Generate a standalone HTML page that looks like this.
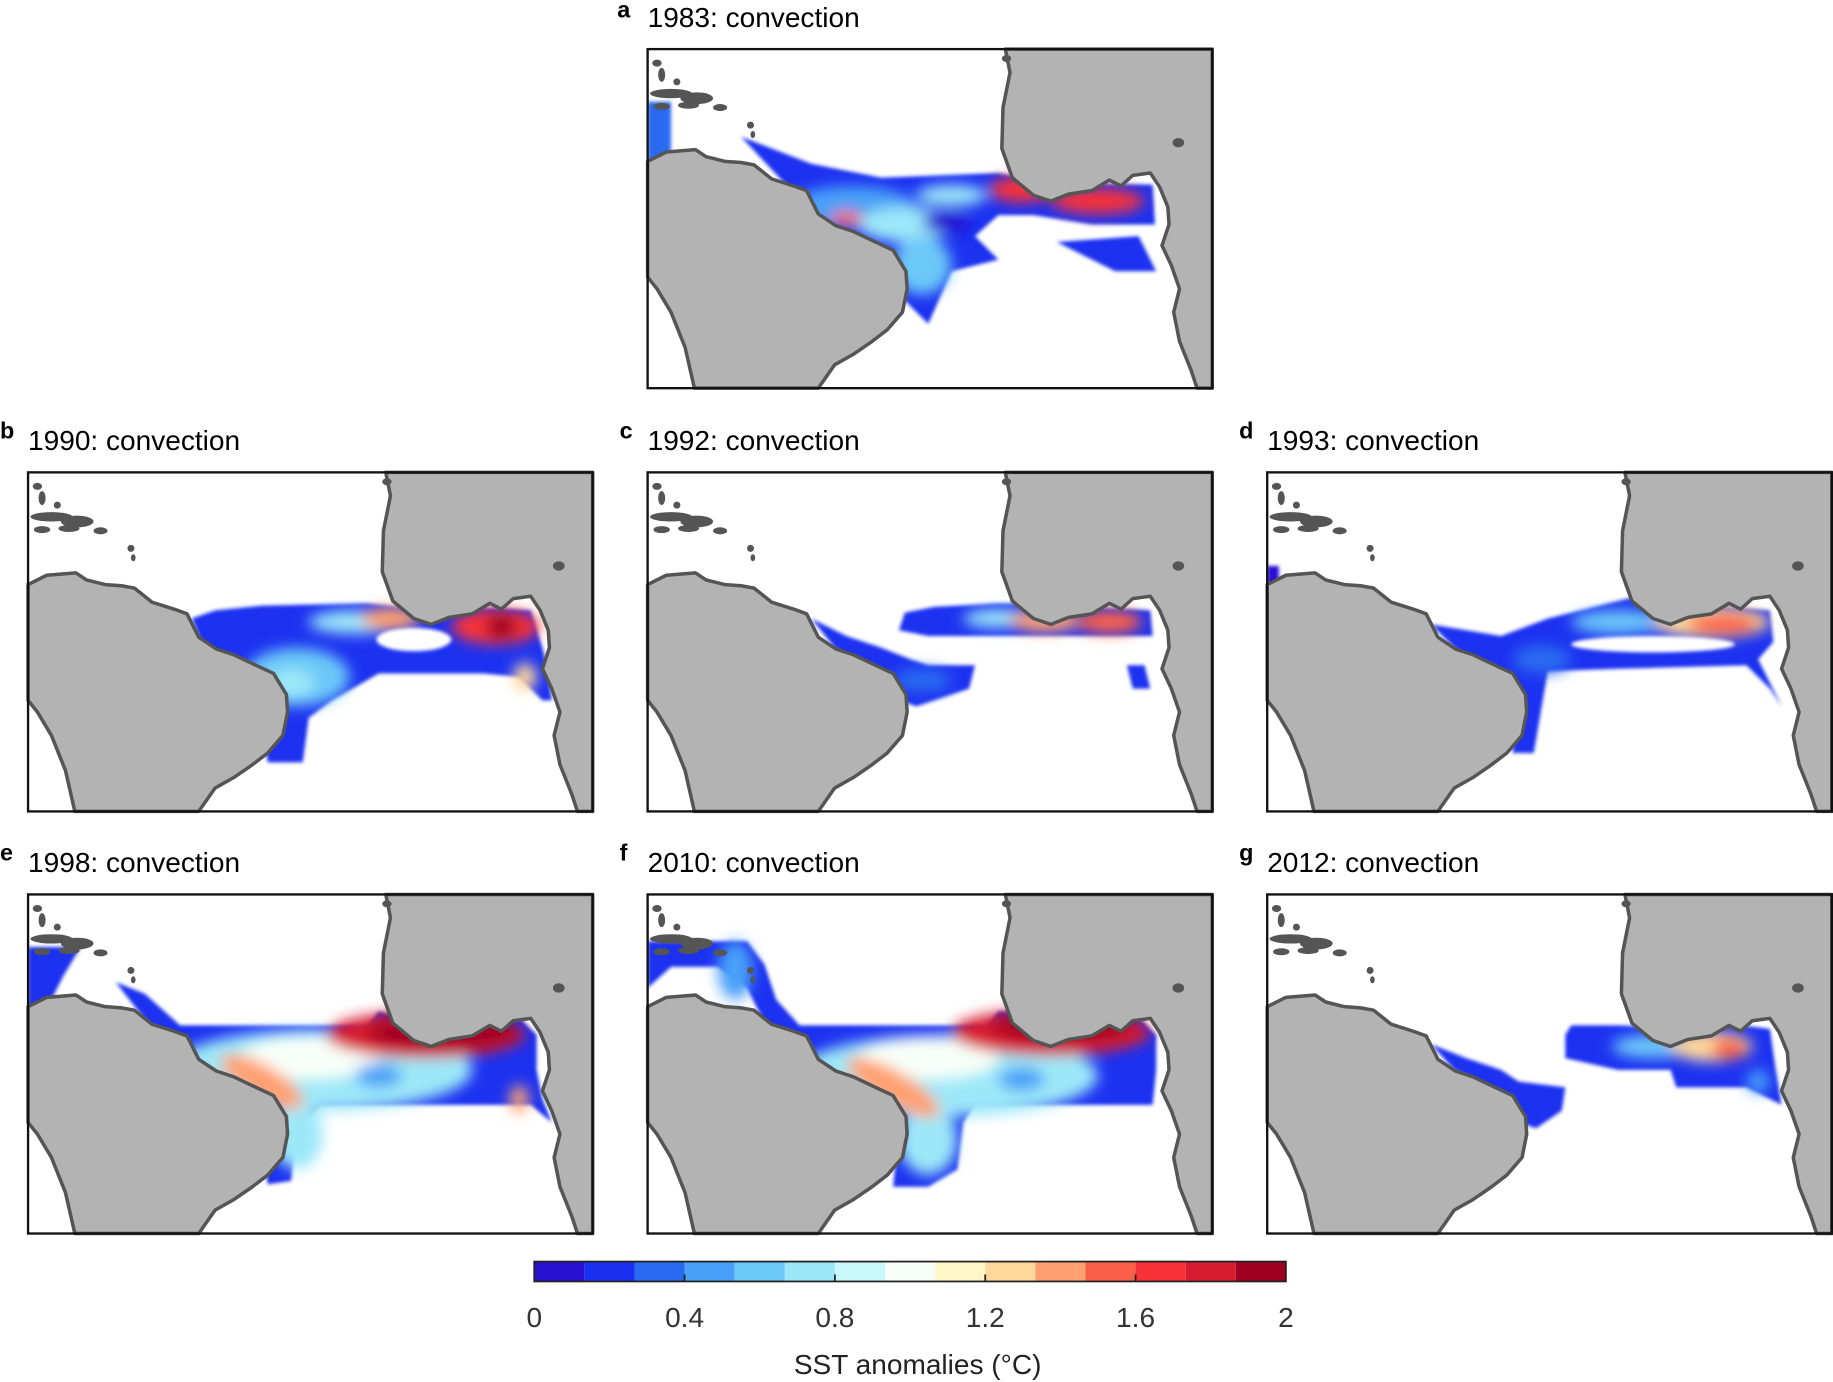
<!DOCTYPE html>
<html><head><meta charset="utf-8"><style>html,body{margin:0;padding:0;background:#fff}svg{display:block}</style></head>
<body>
<svg width="1833" height="1382" viewBox="0 0 1568 1182" preserveAspectRatio="none" xmlns="http://www.w3.org/2000/svg" font-family="Liberation Sans, sans-serif">
<defs>
<clipPath id="cp"><rect x="0" y="0" width="483" height="290"/></clipPath>
<filter id="b1" x="-20%" y="-20%" width="140%" height="140%"><feGaussianBlur stdDeviation="1.5"/></filter>
<filter id="b2" x="-50%" y="-50%" width="200%" height="200%"><feGaussianBlur stdDeviation="6"/></filter>
<g id="land">
<path d="M0,96 L16,88 L41,86 L50,92 L66,96 L80,97 L91,99 L106,111 L125,117 L136,121 L146,141 L161,151 L176,156 L195,165 L210,172 L221,190 L222,205 L218,225 L205,240 L192,250 L176,261 L160,270 L146,290 L40,290 L32,255 L20,225 L8,205 L0,195 Z" fill="#b3b3b3" stroke="#555" stroke-width="3" stroke-linejoin="round"/>
<path d="M306,0 L310,20 L304,50 L303,85 L312,110 L330,125 L345,130 L360,124 L380,121 L395,112 L405,117 L415,108 L430,106 L438,118 L445,135 L446,150 L440,168 L448,185 L455,205 L450,225 L455,250 L465,275 L470,290 L483,290 L483,0 Z" fill="#b3b3b3" stroke="#555" stroke-width="3" stroke-linejoin="round"/>
<g fill="#555">
<ellipse cx="8" cy="12" rx="4" ry="3"/><ellipse cx="12" cy="22" rx="3" ry="6"/><ellipse cx="20" cy="38" rx="18" ry="4"/><ellipse cx="25" cy="28" rx="3" ry="3"/><ellipse cx="42" cy="42" rx="14" ry="5"/><ellipse cx="35" cy="48" rx="9" ry="3"/><ellipse cx="12" cy="49" rx="7" ry="3"/><ellipse cx="62" cy="50" rx="6" ry="3"/><ellipse cx="88" cy="65" rx="3" ry="3"/><ellipse cx="90" cy="73" rx="2" ry="3"/><ellipse cx="454" cy="80" rx="5" ry="4"/><ellipse cx="307" cy="8" rx="4" ry="3"/>
</g>
</g>
<rect id="frame" x="0" y="0" width="483" height="290" fill="none" stroke="#111" stroke-width="2"/>
</defs>

<text x="528" y="15" font-size="20" font-weight="bold">a</text>
<text x="554" y="23" font-size="24">1983: convection</text>
<g transform="translate(554,42)"><g clip-path="url(#cp)">
<g filter="url(#b1)">
<polygon fill="#1a30f0" points="80,75 140,98 200,110 300,106 340,114 432,116 434,150 380,150 330,142 300,142 280,160 300,180 260,190 240,235 210,205 180,170 150,150"/>
<polygon fill="#1a30f0" points="350,165 420,160 435,190 400,190"/>
<polygon fill="#2a6af0" points="0,45 20,45 20,115 0,115"/>
</g>
<g filter="url(#b2)">
<ellipse cx="175" cy="135" rx="55" ry="18" fill="#4aa0f8"/>
<ellipse cx="220" cy="150" rx="40" ry="15" fill="#9ce8f8"/>
<ellipse cx="235" cy="185" rx="25" ry="25" fill="#6cc8f8"/>
<ellipse cx="260" cy="125" rx="30" ry="9" fill="#9ce8f8"/>
<ellipse cx="255" cy="148" rx="20" ry="9" fill="#2810d0"/>
<ellipse cx="320" cy="120" rx="28" ry="11" fill="#f83038"/>
<ellipse cx="385" cy="130" rx="40" ry="11" fill="#f83038"/>
<ellipse cx="170" cy="145" rx="14" ry="6" fill="#fa6048"/>
</g></g>
<use href="#land"/><use href="#frame"/></g>

<text x="0" y="375" font-size="20" font-weight="bold">b</text>
<text x="24" y="385" font-size="24">1990: convection</text>
<text x="530" y="375" font-size="20" font-weight="bold">c</text>
<text x="554" y="385" font-size="24">1992: convection</text>
<text x="1060" y="375" font-size="20" font-weight="bold">d</text>
<text x="1084" y="385" font-size="24">1993: convection</text>

<g transform="translate(24,404)"><g clip-path="url(#cp)">
<g filter="url(#b1)">
<polygon fill="#1a30f0" points="140,125 160,118 200,114 290,112 330,116 400,116 430,118 440,150 445,170 448,195 440,195 420,175 390,172 300,172 260,195 240,210 235,248 205,248 200,215 210,190 180,165 150,150"/>
</g>
<g filter="url(#b2)">
<ellipse cx="230" cy="175" rx="45" ry="25" fill="#6cc8f8"/>
<ellipse cx="225" cy="180" rx="20" ry="12" fill="#9ce8f8"/>
<ellipse cx="280" cy="128" rx="40" ry="10" fill="#9ce8f8"/>
<ellipse cx="400" cy="132" rx="38" ry="15" fill="#f83038"/>
<ellipse cx="405" cy="132" rx="14" ry="10" fill="#a00020"/>
<ellipse cx="310" cy="125" rx="25" ry="10" fill="#ffa070"/>
<ellipse cx="425" cy="175" rx="10" ry="12" fill="#ffd79a"/>
</g>
<ellipse cx="330" cy="143" rx="32" ry="10" fill="#fff" filter="url(#b1)"/>
</g>
<use href="#land"/><use href="#frame"/></g>

<g transform="translate(554,404)"><g clip-path="url(#cp)">
<g filter="url(#b1)">
<polygon fill="#1a30f0" points="220,120 245,115 300,112 330,112 430,118 432,140 300,140 240,140 215,135"/>
<polygon fill="#1a30f0" points="140,125 170,140 200,150 225,160 240,165 280,165 275,185 230,200 215,195 190,170 160,150"/>
<polygon fill="#1a30f0" points="410,165 425,165 430,185 415,185"/>
</g>
<g filter="url(#b2)">
<ellipse cx="235" cy="178" rx="25" ry="10" fill="#2a6af0"/>
<ellipse cx="300" cy="125" rx="30" ry="8" fill="#9ce8f8"/>
<ellipse cx="340" cy="127" rx="30" ry="10" fill="#ffa070"/>
<ellipse cx="395" cy="128" rx="28" ry="10" fill="#fa6048"/>
</g></g>
<use href="#land"/><use href="#frame"/></g>

<g transform="translate(1084,404)"><g clip-path="url(#cp)">
<g filter="url(#b1)">
<polygon fill="#1a30f0" points="140,130 200,140 240,125 300,110 330,103 345,110 430,118 433,145 420,160 440,200 430,185 410,165 300,168 240,170 228,240 210,240 212,200 195,175 160,150"/>
<polygon fill="#2a0fd8" points="0,80 10,80 10,110 0,110"/>
</g>
<g filter="url(#b2)">
<ellipse cx="235" cy="160" rx="25" ry="12" fill="#2a6af0"/>
<ellipse cx="300" cy="128" rx="40" ry="10" fill="#6cc8f8"/>
<ellipse cx="380" cy="128" rx="50" ry="14" fill="#ffd79a"/>
<ellipse cx="390" cy="130" rx="30" ry="9" fill="#fa6048"/>
</g>
<ellipse cx="330" cy="147" rx="70" ry="7" fill="#fff" filter="url(#b1)"/>
</g>
<use href="#land"/><use href="#frame"/></g>

<text x="0" y="736" font-size="20" font-weight="bold">e</text>
<text x="24" y="746" font-size="24">1998: convection</text>
<text x="530" y="736" font-size="20" font-weight="bold">f</text>
<text x="554" y="746" font-size="24">2010: convection</text>
<text x="1060" y="736" font-size="20" font-weight="bold">g</text>
<text x="1084" y="746" font-size="24">2012: convection</text>

<g transform="translate(24,765)"><g clip-path="url(#cp)">
<g filter="url(#b1)">
<polygon fill="#1a30f0" points="75,75 100,85 130,112 290,112 300,100 330,108 400,110 420,105 435,120 435,150 440,175 448,195 430,180 410,180 250,180 230,200 225,245 205,248 200,215 215,190 180,170 140,150 110,120"/>
<polygon fill="#1a30f0" points="0,45 45,45 30,70 15,100 0,100"/>
</g>
<g filter="url(#b2)">
<ellipse cx="250" cy="150" rx="130" ry="35" fill="#9ce8f8"/>
<ellipse cx="230" cy="205" rx="22" ry="30" fill="#9ce8f8"/>
<ellipse cx="240" cy="140" rx="60" ry="18" fill="#f8fff8"/>
<ellipse cx="200" cy="160" rx="40" ry="14" fill="#ffa070" transform="rotate(30 200 160)"/>
<ellipse cx="340" cy="120" rx="85" ry="20" fill="#d81c30"/>
<ellipse cx="355" cy="118" rx="65" ry="13" fill="#a00020"/>
<ellipse cx="300" cy="155" rx="20" ry="10" fill="#4aa0f8"/>
<ellipse cx="420" cy="175" rx="8" ry="12" fill="#ffa070"/>
<ellipse cx="10" cy="110" rx="6" ry="12" fill="#f83038"/>
</g></g>
<use href="#land"/><use href="#frame"/></g>

<g transform="translate(554,765)"><g clip-path="url(#cp)">
<g filter="url(#b1)">
<polygon fill="#1a30f0" points="0,40 85,40 100,60 110,90 130,112 290,112 300,100 330,100 400,110 420,105 435,120 435,150 432,180 370,180 280,180 270,195 265,235 240,250 210,250 215,200 205,190 180,170 140,150 105,120 85,80 60,62 20,62 0,80"/>
</g>
<g filter="url(#b2)">
<ellipse cx="255" cy="155" rx="130" ry="35" fill="#9ce8f8"/>
<ellipse cx="240" cy="210" rx="25" ry="30" fill="#9ce8f8"/>
<ellipse cx="75" cy="65" rx="15" ry="25" fill="#4aa0f8"/>
<ellipse cx="240" cy="140" rx="60" ry="18" fill="#f8fff8"/>
<ellipse cx="210" cy="165" rx="45" ry="14" fill="#ffa070" transform="rotate(30 210 165)"/>
<ellipse cx="345" cy="118" rx="85" ry="20" fill="#d81c30"/>
<ellipse cx="355" cy="113" rx="60" ry="12" fill="#a00020"/>
<ellipse cx="320" cy="158" rx="20" ry="10" fill="#4aa0f8"/>
</g></g>
<use href="#land"/><use href="#frame"/></g>

<g transform="translate(1084,765)"><g clip-path="url(#cp)">
<g filter="url(#b1)">
<polygon fill="#1a30f0" points="140,128 170,140 200,150 215,160 255,165 252,185 230,200 215,195 190,165 160,150"/>
<polygon fill="#1a30f0" points="255,120 260,112 300,112 330,113 350,105 430,115 435,150 440,180 430,175 410,165 350,165 345,150 300,150 255,140"/>
</g>
<g filter="url(#b2)">
<ellipse cx="330" cy="130" rx="35" ry="10" fill="#6cc8f8"/>
<ellipse cx="380" cy="130" rx="35" ry="13" fill="#ffd79a"/>
<ellipse cx="395" cy="132" rx="15" ry="9" fill="#fa6048"/>
<ellipse cx="420" cy="160" rx="10" ry="10" fill="#4aa0f8"/>
</g></g>
<use href="#land"/><use href="#frame"/></g>

<g transform="translate(457,1079)">
<rect x="0" y="0" width="42.87" height="17" fill="#2810d0"/>
<rect x="42.87" y="0" width="42.87" height="17" fill="#1a30f0"/>
<rect x="85.73" y="0" width="42.87" height="17" fill="#2a6af0"/>
<rect x="128.6" y="0" width="42.87" height="17" fill="#4aa0f8"/>
<rect x="171.47" y="0" width="42.87" height="17" fill="#6cc8f8"/>
<rect x="214.33" y="0" width="42.87" height="17" fill="#9ce8f8"/>
<rect x="257.2" y="0" width="42.87" height="17" fill="#c8f8fc"/>
<rect x="300.07" y="0" width="42.87" height="17" fill="#f8fff8"/>
<rect x="342.93" y="0" width="42.87" height="17" fill="#fff6c8"/>
<rect x="385.8" y="0" width="42.87" height="17" fill="#ffd79a"/>
<rect x="428.67" y="0" width="42.87" height="17" fill="#ffa070"/>
<rect x="471.53" y="0" width="42.87" height="17" fill="#fa6048"/>
<rect x="514.4" y="0" width="42.87" height="17" fill="#f83038"/>
<rect x="557.27" y="0" width="42.87" height="17" fill="#d81c30"/>
<rect x="600.13" y="0" width="42.87" height="17" fill="#a00020"/>
<rect x="0" y="0" width="643" height="17" fill="none" stroke="#222" stroke-width="1.5"/>
<g stroke="#222" stroke-width="1.5"><line x1="128.6" y1="11" x2="128.6" y2="17"/><line x1="257.2" y1="11" x2="257.2" y2="17"/><line x1="385.8" y1="11" x2="385.8" y2="17"/><line x1="514.4" y1="11" x2="514.4" y2="17"/></g>
<g font-size="24" fill="#333" text-anchor="middle">
<text x="0" y="56">0</text><text x="128.6" y="56">0.4</text><text x="257.2" y="56">0.8</text><text x="385.8" y="56">1.2</text><text x="514.4" y="56">1.6</text><text x="643" y="56">2</text>
</g>
<text x="328" y="96" font-size="24" fill="#222" text-anchor="middle">SST anomalies (°C)</text>
</g>
</svg>
</body></html>
